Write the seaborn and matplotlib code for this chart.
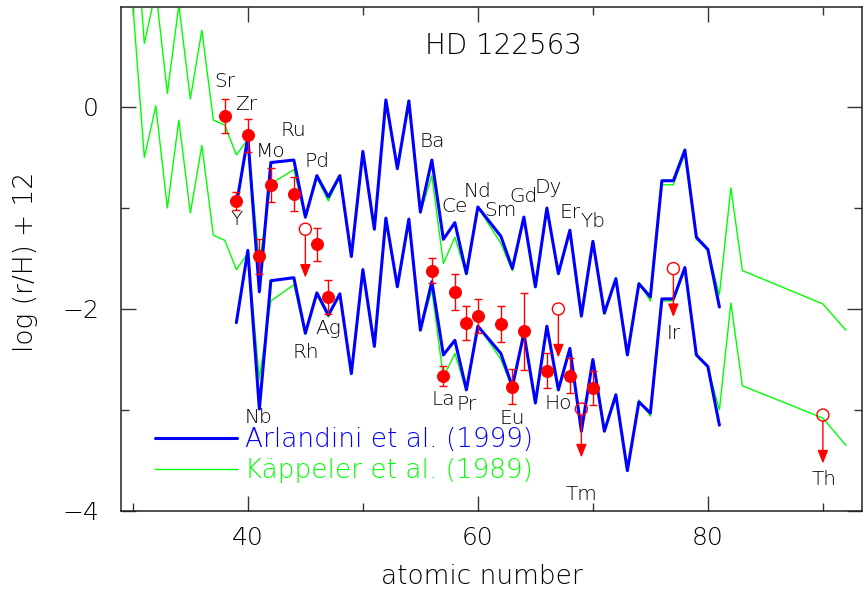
import numpy as np
import matplotlib.pyplot as plt
import matplotlib as mpl
import seaborn as sns
from matplotlib.lines import Line2D
from matplotlib.ticker import MultipleLocator, FuncFormatter

# HD 122563 r-process pattern vs scaled solar r-residuals

# Arlandini et al. (1999), two normalisations
z_arl = [39, 40, 41, 42, 44, 45, 46, 47, 48, 49, 50, 51, 52, 53, 54, 55, 56, 57, 58, 59, 60,
         62, 63, 64, 65, 66, 67, 68, 69, 70, 71, 72, 73, 74, 75, 76, 77, 78, 79, 80, 81]
arl_hi = [-0.97, -0.30, -1.83, -0.55, -0.525, -1.09, -0.68, -0.89, -0.68, -1.48, -0.44, -1.21,
          0.07, -0.61, 0.06, -1.04, -0.525, -1.31, -1.145, -1.65, -0.99,
          -1.28, -1.60, -1.09, -1.78, -1.00, -1.65, -1.22, -2.07, -1.33, -2.04, -1.70, -2.455,
          -1.75, -1.88, -0.73, -0.73, -0.426, -1.29, -1.41, -1.98]
arl_lo = [-2.135, -1.42, -2.99, -1.72, -1.69, -2.24, -1.84, -2.06, -1.85, -2.64, -1.61, -2.37,
          -1.10, -1.78, -1.11, -2.21, -1.73, -2.455, -2.31, -2.80, -2.17,
          -2.44, -2.77, -2.24, -2.93, -2.17, -2.80, -2.39, -3.21, -2.50, -3.21, -2.85, -3.60,
          -2.92, -3.03, -1.90, -1.90, -1.59, -2.455, -2.57, -3.15]

# Kaeppeler et al. (1989), two normalisations
z_kap = [30, 31, 32, 33, 34, 35, 36, 37, 38, 39, 40, 41, 42,
         44, 45, 46, 47, 48, 49, 50, 51, 52, 53, 54, 55, 56, 57, 58, 59, 60,
         62, 63, 64, 65, 66, 67, 68, 69, 70, 71, 72, 73, 74, 75, 76, 77, 78, 79, 80, 81, 82, 83,
         90, 92]
kap_hi = [2.15, 0.63, 1.15, 0.135, 1.01, 0.08, 0.76, -0.13, -0.18, -0.475, -0.32, -1.55, -0.76,
          -0.62, -1.10, -0.70, -0.93, -0.69, -1.49, -0.45, -1.22, 0.06, -0.62, 0.05, -1.05,
          -0.68, -1.55, -1.29, -1.66, -0.99,
          -1.35, -1.62, -1.10, -1.79, -1.01, -1.66, -1.23, -2.08, -1.34, -2.05, -1.69, -2.46,
          -1.74, -1.92, -0.77, -0.77, -0.46, -1.31, -1.42, -1.86, -0.80, -1.62,
          -1.95, -2.21]
kap_lo = [1.01, -0.50, 0.01, -1.00, -0.13, -1.05, -0.38, -1.27, -1.32, -1.61, -1.45, -2.69, -1.92,
          -1.76, -2.25, -1.86, -2.08, -1.85, -2.64, -1.61, -2.37, -1.10, -1.78, -1.11, -2.21,
          -1.81, -2.68, -2.44, -2.81, -2.16,
          -2.50, -2.78, -2.25, -2.94, -2.17, -2.81, -2.40, -3.22, -2.50, -3.21, -2.84, -3.61,
          -2.90, -3.06, -1.92, -1.92, -1.61, -2.46, -2.58, -3.00, -1.94, -2.76,
          -3.08, -3.35]

# measured abundances
det_z = [38, 39, 40, 41, 42, 44, 46, 47, 56, 57, 58, 59, 60, 62, 63, 64, 66, 68, 70]
det_ab = [-0.09, -0.93, -0.28, -1.48, -0.77, -0.86, -1.36, -1.88, -1.62, -2.66, -1.83, -2.14,
          -2.07, -2.15, -2.77, -2.22, -2.61, -2.66, -2.78]
det_err = [0.17, 0.09, 0.165, 0.17, 0.17, 0.17, 0.165, 0.17, 0.12, 0.10, 0.18, 0.17,
           0.165, 0.175, 0.175, 0.38, 0.17, 0.17, 0.17]

# upper limits
lim_z = [45, 67, 69, 77, 90]
lim_ab = [-1.21, -2.00, -2.99, -1.60, -3.05]

# element labels (text placement)
el_names = ['Sr', 'Zr', 'Y', 'Mo', 'Ru', 'Pd', 'Nb', 'Rh', 'Ag', 'Ba', 'Ce', 'Nd', 'Sm', 'Gd',
            'Dy', 'Er', 'Yb', 'La', 'Pr', 'Eu', 'Ho', 'Tm', 'Ir', 'Th']
el_x = [38.0, 39.85, 39.0, 42.0, 44.0, 46.0, 40.9, 45.0, 47.0, 56.0, 58.0, 60.0, 62.0, 64.0,
        66.1, 68.0, 70.0, 57.0, 59.0, 63.0, 67.0, 69.0, 77.0, 90.1]
el_y = [0.25, 0.02, -1.11, -0.44, -0.23, -0.535, -3.07, -2.43, -2.19, -0.34, -0.99, -0.84,
        -1.02, -0.89, -0.80, -1.04, -1.135, -2.90, -2.95, -3.08, -2.94, -3.84, -2.24, -3.69]

sns.set_style('ticks')
plt.rcParams['font.family'] = ['DejaVu Sans']
plt.rcParams['font.weight'] = 'light'
plt.rcParams['axes.labelweight'] = 'light'
plt.rcParams['text.color'] = 'black'
plt.rcParams['axes.labelcolor'] = 'black'
plt.rcParams['xtick.color'] = 'black'
plt.rcParams['ytick.color'] = 'black'

blue = '#0000ff'
green = '#00ff00'
red = '#ff0000'

fig = plt.figure(figsize=(8.64, 5.93), dpi=100)
ax = fig.add_axes([121/864, 1 - 511/593, 741/864, 504/593])

sns.lineplot(x=z_kap, y=kap_hi, ax=ax, color=green, lw=1.0, sort=False, estimator=None, zorder=2)
sns.lineplot(x=z_kap, y=kap_lo, ax=ax, color=green, lw=1.0, sort=False, estimator=None, zorder=2)
sns.lineplot(x=z_arl, y=arl_hi, ax=ax, color=blue, lw=2.2, sort=False, estimator=None, zorder=3)
sns.lineplot(x=z_arl, y=arl_lo, ax=ax, color=blue, lw=2.2, sort=False, estimator=None, zorder=3)

ax.errorbar(det_z, det_ab, yerr=det_err, fmt='none', ecolor=red, elinewidth=1, capsize=3,
            capthick=1, zorder=4)
sns.scatterplot(x=det_z, y=det_ab, ax=ax, color=red, edgecolor=red, s=75, zorder=5, legend=False)

sns.scatterplot(x=lim_z, y=lim_ab, ax=ax, s=75, zorder=5, legend=False)
ax.collections[-1].set_facecolor('none')
ax.collections[-1].set_edgecolor(red)
ax.collections[-1].set_linewidth(1.0)
for z, a in zip(lim_z, lim_ab):
    ax.annotate('', xy=(z, a - 0.48), xytext=(z, a),
                arrowprops=dict(arrowstyle='-|>,head_length=0.5,head_width=0.2', color=red,
                                lw=1, mutation_scale=16, shrinkA=4.5, shrinkB=0), zorder=5)

for n, x, y in zip(el_names, el_x, el_y):
    ax.text(x, y, n, fontsize=14.5, ha='center', va='center', color='k', zorder=6)

ax.text(62.2, 0.60, 'HD 122563', fontsize=20, ha='center', va='center')

ax.set_xlim(28.97, 93.4)
ax.set_ylim(-4.0, 0.99)
ax.xaxis.set_major_locator(MultipleLocator(20))
ax.xaxis.set_minor_locator(MultipleLocator(10))
ax.yaxis.set_major_locator(MultipleLocator(2))
ax.yaxis.set_minor_locator(MultipleLocator(1))
ax.yaxis.set_major_formatter(FuncFormatter(
    lambda v, p: ('\u2212%d' % abs(v) if v < -0.5 else '%d' % abs(v)) if v < 0.5 else ''))
ax.tick_params(which='major', direction='in', length=11, width=1, top=True, right=True,
               labelsize=18, color='#333333')
ax.tick_params(which='minor', direction='in', length=5.5, width=1, top=True, right=True,
               color='#333333')
ax.tick_params(axis='y', which='major', pad=16)
ax.tick_params(axis='x', which='major', pad=11)
for s in ax.spines.values():
    s.set_linewidth(1.1)
    s.set_color('#222222')

ax.set_xlabel('atomic number', fontsize=19)
ax.set_ylabel('log (r/H) + 12', fontsize=19)
ax.xaxis.set_label_coords((482 - 121) / 741, -0.105)
ax.yaxis.set_label_coords(-0.112, (511 - 262) / 504)

h1 = Line2D([0], [0], color=blue, lw=2.2)
h2 = Line2D([0], [0], color=green, lw=1.0)
leg = ax.legend((h1, h2), ('Arlandini et al. (1999)', 'Käppeler et al. (1989)'),
                loc='upper left', bbox_to_anchor=(0.046, 0.166), borderaxespad=0, borderpad=0,
                frameon=False, fontsize=19, handlelength=3.1, handletextpad=0.3, labelspacing=0.22)
leg.get_texts()[0].set_color(blue)
leg.get_texts()[1].set_color(green)

plt.savefig('out.png', dpi=100)
